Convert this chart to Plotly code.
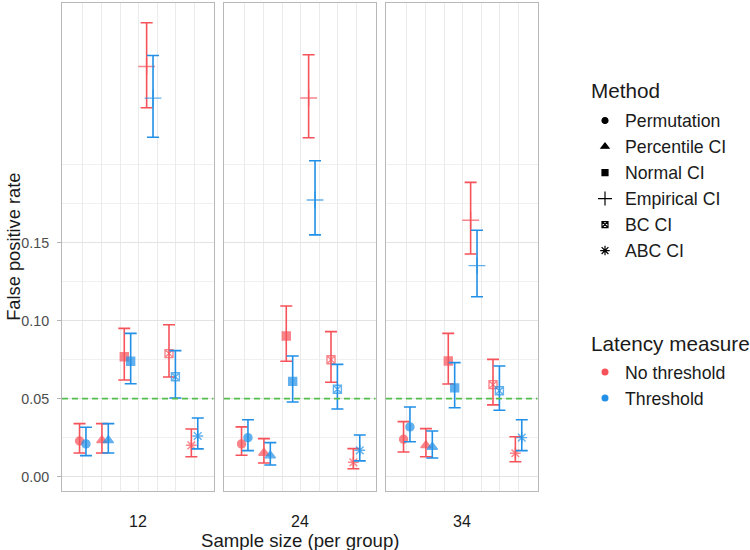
import plotly.graph_objects as go

# ---------------- data ----------------
sizes = ["12", "24", "34"]
methods = ["Permutation", "Percentile CI", "Normal CI", "Empirical CI", "BC CI", "ABC CI"]
measures = ["No threshold", "Threshold"]

# estimates [size][method]
est_no = [
    [0.0229, 0.0233, 0.0769, 0.2630, 0.0789, 0.0201],
    [0.0210, 0.0152, 0.0902, 0.2428, 0.0750, 0.0092],
    [0.0240, 0.0201, 0.0742, 0.1644, 0.0590, 0.0150],
]
lo_no = [
    [0.0152, 0.0152, 0.0620, 0.2365, 0.0639, 0.0128],
    [0.0137, 0.0088, 0.0740, 0.2173, 0.0605, 0.0051],
    [0.0158, 0.0128, 0.0594, 0.1428, 0.0460, 0.0096],
]
hi_no = [
    [0.0340, 0.0340, 0.0951, 0.2910, 0.0974, 0.0306],
    [0.0319, 0.0244, 0.1094, 0.2705, 0.0930, 0.0180],
    [0.0353, 0.0308, 0.0919, 0.1887, 0.0752, 0.0256],
]
est_th = [
    [0.0210, 0.0233, 0.0740, 0.2427, 0.0641, 0.0261],
    [0.0250, 0.0135, 0.0611, 0.1774, 0.0560, 0.0169],
    [0.0319, 0.0190, 0.0569, 0.1353, 0.0551, 0.0250],
]
lo_th = [
    [0.0135, 0.0152, 0.0596, 0.2176, 0.0504, 0.0178],
    [0.0167, 0.0075, 0.0479, 0.1550, 0.0434, 0.0101],
    [0.0224, 0.0120, 0.0442, 0.1154, 0.0426, 0.0167],
]
hi_th = [
    [0.0317, 0.0340, 0.0919, 0.2700, 0.0808, 0.0376],
    [0.0365, 0.0218, 0.0774, 0.2026, 0.0720, 0.0267],
    [0.0447, 0.0293, 0.0731, 0.1580, 0.0710, 0.0365],
]
ref_rate = 0.05
y_ticks = [0.0, 0.05, 0.10, 0.15]
y_ticktext = ["0.00", "0.05", "0.10", "0.15"]
y_minor = [0.025, 0.075, 0.125, 0.175, 0.2]

# ---------------- style ----------------
W, H = 750, 550
FONT = "Liberation Sans, Arial, sans-serif"
colors = {"No threshold": "#F6525A", "Threshold": "#2190E6"}
symbols = ["circle", "triangle-up", "square", "cross-thin", "square-x-open", "asterisk-open"]
msizes = [8, 9, 8, 12, 8, 9]
leg_sizes = [6, 7, 6, 10, 6, 8]
dodge = 0.143

panel_px = [(62.0, 213.5), (224.0, 375.5), (386.0, 537.5)]
y_top_px, y_bot_px = 3.0, 490.7
ydom = [(H - y_bot_px) / H, (H - y_top_px) / H]
yrange = [-0.0090, 0.3037]
xrange = [-0.928, 5.847]
xgrid = [k * 5 / 6 for k in range(7)]

fig = go.Figure()

series = {
    "No threshold": (est_no, lo_no, hi_no, -dodge),
    "Threshold": (est_th, lo_th, hi_th, dodge),
}

for p in range(3):
    ax = "" if p == 0 else str(p + 1)
    for meas in measures:
        est, lo, hi, off = series[meas]
        e, l, h = est[p], lo[p], hi[p]
        fig.add_trace(go.Scatter(
            x=[j + off for j in range(len(methods))],
            y=e,
            mode="markers",
            xaxis="x" + ax, yaxis="y" + ax,
            showlegend=False,
            hoverinfo="skip",
            marker=dict(symbol=symbols, size=msizes, color=colors[meas],
                        line=dict(color=colors[meas], width=1.4)),
            error_y=dict(type="data", symmetric=False,
                         array=[hv - ev for hv, ev in zip(h, e)],
                         arrayminus=[ev - lv for ev, lv in zip(e, l)],
                         color=colors[meas], thickness=1.6, width=6),
        ))
    fig.add_shape(type="line", xref=f"x{ax} domain", yref="y" + ax,
                  x0=0, x1=1, y0=ref_rate, y1=ref_rate,
                  line=dict(color="#55BD4B", width=1.8, dash="6px,4px"))

# legend entries
for m, s, sz in zip(methods, symbols, leg_sizes):
    fig.add_trace(go.Scatter(
        x=[None], y=[None], mode="markers", name=m, legend="legend",
        legendgroup=m,
        marker=dict(symbol=s, size=sz, color="black",
                    line=dict(color="black", width=1.2)),
    ))
for meas in measures:
    fig.add_trace(go.Scatter(
        x=[None], y=[None], mode="markers", name=meas, legend="legend2",
        legendgroup=meas,
        marker=dict(symbol="circle", size=7, color=colors[meas]),
    ))

layout = dict(
    width=W, height=H,
    margin=dict(l=0, r=0, t=0, b=0),
    paper_bgcolor="white", plot_bgcolor="white",
    font=dict(family=FONT, color="#1A1A1A"),
    legend=dict(x=585 / W, y=(H - 102.5) / H, xanchor="left", yanchor="top",
                font=dict(size=17.7), tracegroupgap=0, bgcolor="rgba(0,0,0,0)"),
    legend2=dict(x=585 / W, y=(H - 354) / H, xanchor="left", yanchor="top",
                 font=dict(size=17.7), tracegroupgap=0, bgcolor="rgba(0,0,0,0)"),
)

for p in range(3):
    ax = "" if p == 0 else str(p + 1)
    x0, x1 = panel_px[p]
    layout["xaxis" + ax] = dict(
        domain=[x0 / W, x1 / W], range=xrange, anchor="y" + ax,
        tickmode="array", tickvals=xgrid, showticklabels=False, ticks="",
        showgrid=True, gridcolor="#EBEBEB", gridwidth=1, zeroline=False,
        showline=True, mirror=True, linecolor="#B8B8B8", linewidth=1,
    )
    yax = dict(
        domain=ydom, range=yrange, anchor="x" + ax,
        tickmode="array", tickvals=y_ticks, ticktext=y_ticktext,
        showgrid=True, gridcolor="#E3E3E3", gridwidth=1, zeroline=False,
        showline=True, mirror=True, linecolor="#B8B8B8", linewidth=1,
        minor=dict(tickmode="array", tickvals=y_minor, showgrid=True,
                   gridcolor="#F0F0F0", gridwidth=1, ticks=""),
        automargin=False,
    )
    if p == 0:
        yax.update(showticklabels=True, ticks="outside", ticklen=4,
                   tickcolor="#B3B3B3", tickwidth=1, ticklabelstandoff=5,
                   tickfont=dict(size=14.3, color="#4D4D4D", family=FONT))
    else:
        yax.update(showticklabels=False, ticks="", matches="y")
    layout["yaxis" + ax] = yax

fig.update_layout(**layout)

# legend titles
fig.add_annotation(text="Method", xref="paper", yref="paper",
                   x=589 / W, y=(H - 91) / H, xanchor="left", yanchor="middle",
                   showarrow=False, font=dict(size=20.7, color="#1A1A1A"))
fig.add_annotation(text="Latency measure", xref="paper", yref="paper",
                   x=589 / W, y=(H - 343) / H, xanchor="left", yanchor="middle",
                   showarrow=False, font=dict(size=20.7, color="#1A1A1A"))

# facet labels (bottom strips)
for p in range(3):
    x0, x1 = panel_px[p]
    fig.add_annotation(text=sizes[p], xref="paper", yref="paper",
                       x=(x0 + x1) / 2 / W, y=(H - 521) / H,
                       showarrow=False, font=dict(size=16, color="#1A1A1A"),
                       xanchor="center", yanchor="middle")

fig.add_annotation(text="Sample size (per group)", xref="paper", yref="paper",
                   x=(panel_px[0][0] + panel_px[2][1]) / 2 / W, y=(H - 540) / H,
                   showarrow=False, font=dict(size=18.6, color="#1A1A1A"),
                   xanchor="center", yanchor="middle")
fig.add_annotation(text="False positive rate", xref="paper", yref="paper",
                   x=14 / W, y=(H - (y_top_px + y_bot_px) / 2) / H,
                   textangle=-90, showarrow=False,
                   font=dict(size=18.3, color="#1A1A1A"),
                   xanchor="center", yanchor="middle")

fig.write_html("out.html")
